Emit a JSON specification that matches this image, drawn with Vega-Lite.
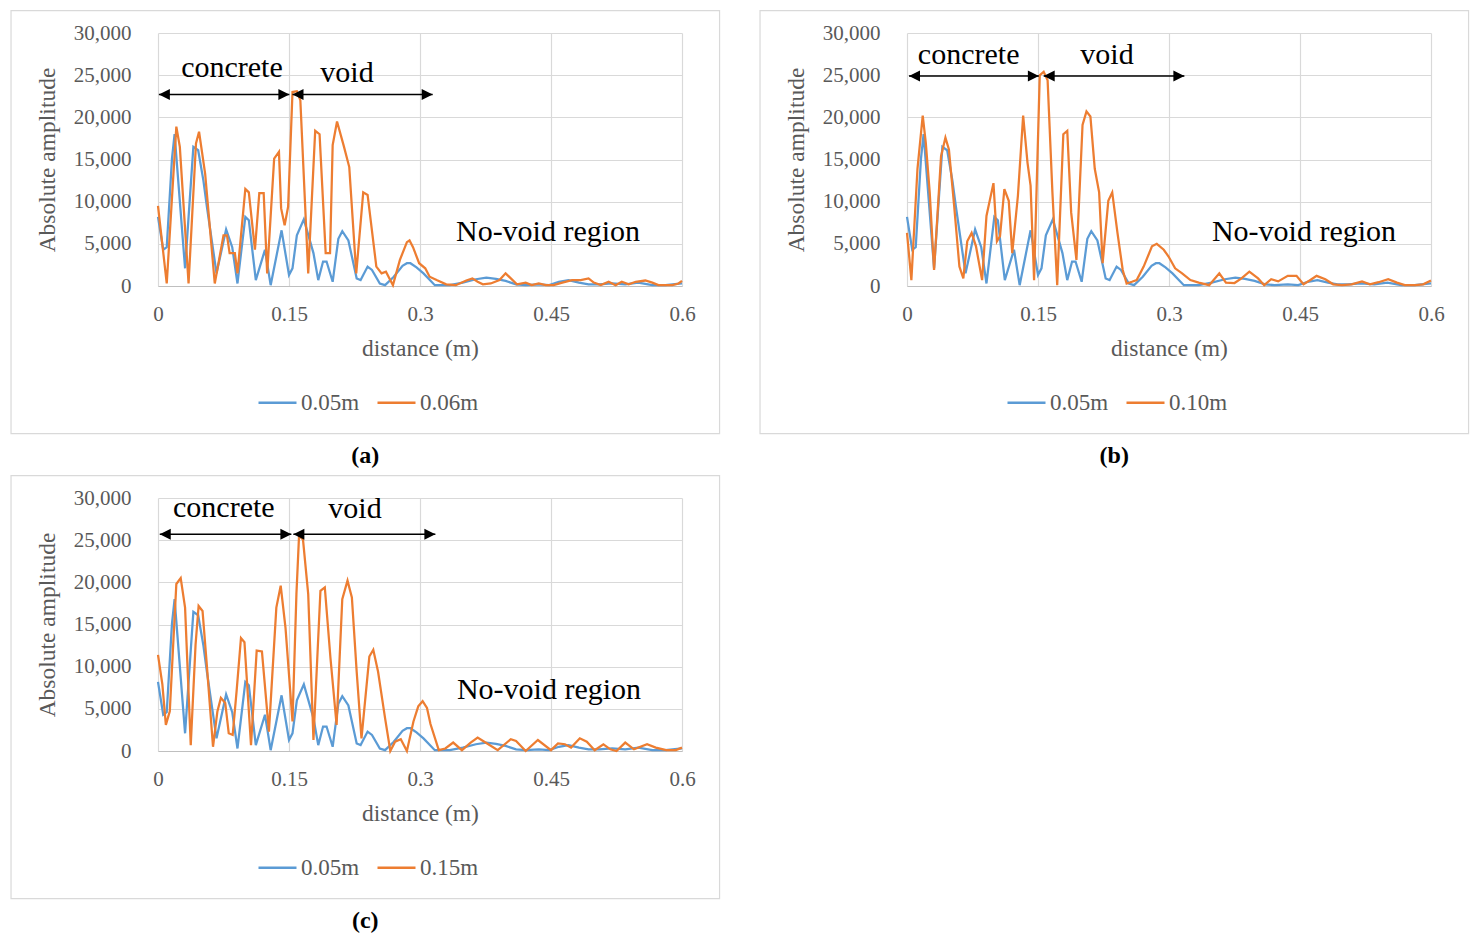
{
  "$schema": "https://vega.github.io/schema/vega-lite/v6.json",
  "background": "white",
  "padding": {"left": 10, "top": 10, "right": 0, "bottom": 0},
  "columns": 2,
  "spacing": {"row": 6, "column": 38},
  "resolve": {"scale": {"color": "independent"}},
  "datasets": {
    "blue": [
      {"d":0,"amp":8200},{"d":0.006,"amp":4300},{"d":0.01,"amp":4600},{"d":0.016,"amp":15100},{"d":0.019,"amp":18000},
      {"d":0.031,"amp":2100},{"d":0.0405,"amp":16500},{"d":0.046,"amp":16100},{"d":0.052,"amp":12500},{"d":0.056,"amp":9400},
      {"d":0.067,"amp":1500},{"d":0.078,"amp":6700},{"d":0.085,"amp":4600},{"d":0.091,"amp":300},{"d":0.1,"amp":8200},
      {"d":0.104,"amp":7800},{"d":0.112,"amp":700},{"d":0.1225,"amp":4300},{"d":0.129,"amp":100},{"d":0.1415,"amp":6600},
      {"d":0.15,"amp":1300},{"d":0.154,"amp":2100},{"d":0.159,"amp":6000},{"d":0.167,"amp":7900},{"d":0.178,"amp":3900},
      {"d":0.1835,"amp":700},{"d":0.189,"amp":2900},{"d":0.193,"amp":2900},{"d":0.2,"amp":500},{"d":0.2065,"amp":5600},
      {"d":0.211,"amp":6500},{"d":0.218,"amp":5400},{"d":0.2275,"amp":900},{"d":0.232,"amp":700},{"d":0.24,"amp":2300},
      {"d":0.245,"amp":1900},{"d":0.254,"amp":300},{"d":0.26,"amp":100},{"d":0.27,"amp":1100},{"d":0.28,"amp":2400},
      {"d":0.285,"amp":2700},{"d":0.289,"amp":2700},{"d":0.296,"amp":2200},{"d":0.304,"amp":1500},{"d":0.317,"amp":100},
      {"d":0.334,"amp":100},{"d":0.349,"amp":400},{"d":0.364,"amp":800},{"d":0.376,"amp":1000},{"d":0.387,"amp":850},
      {"d":0.398,"amp":600},{"d":0.41,"amp":200},{"d":0.421,"amp":100},{"d":0.436,"amp":200},{"d":0.448,"amp":100},
      {"d":0.459,"amp":500},{"d":0.47,"amp":700},{"d":0.482,"amp":400},{"d":0.493,"amp":200},{"d":0.505,"amp":200},
      {"d":0.52,"amp":300},{"d":0.535,"amp":200},{"d":0.55,"amp":400},{"d":0.566,"amp":100},{"d":0.581,"amp":100},
      {"d":0.6,"amp":300}
    ],
    "orangeA": [
      {"d":0,"amp":9500},{"d":0.01,"amp":300},{"d":0.021,"amp":18900},{"d":0.025,"amp":16500},{"d":0.035,"amp":300},
      {"d":0.0435,"amp":16900},{"d":0.047,"amp":18300},{"d":0.054,"amp":13300},{"d":0.065,"amp":300},{"d":0.075,"amp":6000},
      {"d":0.079,"amp":6000},{"d":0.082,"amp":3900},{"d":0.088,"amp":3900},{"d":0.091,"amp":1500},{"d":0.1,"amp":11500},
      {"d":0.104,"amp":11100},{"d":0.111,"amp":4300},{"d":0.116,"amp":11000},{"d":0.121,"amp":11000},{"d":0.125,"amp":1500},
      {"d":0.133,"amp":15100},{"d":0.1385,"amp":15900},{"d":0.141,"amp":9200},{"d":0.145,"amp":7200},{"d":0.149,"amp":9400},
      {"d":0.154,"amp":23000},{"d":0.159,"amp":23100},{"d":0.163,"amp":22000},{"d":0.172,"amp":1500},{"d":0.18,"amp":18400},
      {"d":0.185,"amp":18000},{"d":0.192,"amp":3900},{"d":0.197,"amp":3900},{"d":0.2,"amp":16700},{"d":0.205,"amp":19500},
      {"d":0.213,"amp":16500},{"d":0.219,"amp":14100},{"d":0.227,"amp":1500},{"d":0.235,"amp":11100},{"d":0.24,"amp":10800},
      {"d":0.25,"amp":2300},{"d":0.256,"amp":1500},{"d":0.261,"amp":1700},{"d":0.269,"amp":100},{"d":0.277,"amp":3100},
      {"d":0.285,"amp":5200},{"d":0.288,"amp":5400},{"d":0.292,"amp":4600},{"d":0.299,"amp":2700},{"d":0.306,"amp":2100},
      {"d":0.311,"amp":1100},{"d":0.319,"amp":700},{"d":0.33,"amp":200},{"d":0.341,"amp":100},{"d":0.353,"amp":650},
      {"d":0.36,"amp":900},{"d":0.366,"amp":500},{"d":0.372,"amp":200},{"d":0.381,"amp":300},{"d":0.391,"amp":700},
      {"d":0.398,"amp":1500},{"d":0.404,"amp":900},{"d":0.411,"amp":200},{"d":0.421,"amp":400},{"d":0.428,"amp":100},
      {"d":0.436,"amp":300},{"d":0.444,"amp":100},{"d":0.453,"amp":100},{"d":0.463,"amp":400},{"d":0.474,"amp":700},
      {"d":0.484,"amp":700},{"d":0.493,"amp":900},{"d":0.499,"amp":400},{"d":0.507,"amp":100},{"d":0.516,"amp":500},
      {"d":0.524,"amp":100},{"d":0.531,"amp":500},{"d":0.539,"amp":200},{"d":0.547,"amp":500},{"d":0.558,"amp":650},
      {"d":0.566,"amp":400},{"d":0.573,"amp":100},{"d":0.581,"amp":100},{"d":0.589,"amp":100},{"d":0.596,"amp":300},
      {"d":0.6,"amp":600}
    ],
    "orangeB": [
      {"d":0,"amp":6300},{"d":0.005,"amp":700},{"d":0.012,"amp":13900},{"d":0.018,"amp":20200},{"d":0.0215,"amp":17000},
      {"d":0.026,"amp":11100},{"d":0.031,"amp":1900},{"d":0.039,"amp":15400},{"d":0.044,"amp":17600},{"d":0.048,"amp":16200},
      {"d":0.054,"amp":9500},{"d":0.06,"amp":2300},{"d":0.0645,"amp":900},{"d":0.069,"amp":5300},{"d":0.074,"amp":6300},
      {"d":0.079,"amp":4700},{"d":0.086,"amp":700},{"d":0.091,"amp":8300},{"d":0.099,"amp":12200},{"d":0.103,"amp":5300},
      {"d":0.1065,"amp":5900},{"d":0.1115,"amp":11500},{"d":0.1165,"amp":10100},{"d":0.1205,"amp":3900},{"d":0.127,"amp":10700},
      {"d":0.133,"amp":20200},{"d":0.138,"amp":14600},{"d":0.1415,"amp":11900},{"d":0.1455,"amp":700},{"d":0.152,"amp":25000},
      {"d":0.1565,"amp":25400},{"d":0.161,"amp":24400},{"d":0.1665,"amp":11100},{"d":0.172,"amp":100},{"d":0.179,"amp":18000},
      {"d":0.1835,"amp":18400},{"d":0.188,"amp":8700},{"d":0.194,"amp":3100},{"d":0.201,"amp":19100},{"d":0.2055,"amp":20700},
      {"d":0.21,"amp":20100},{"d":0.215,"amp":13900},{"d":0.22,"amp":11100},{"d":0.224,"amp":2700},{"d":0.2305,"amp":10100},
      {"d":0.235,"amp":11100},{"d":0.241,"amp":6300},{"d":0.247,"amp":1900},{"d":0.2515,"amp":300},{"d":0.2575,"amp":500},
      {"d":0.263,"amp":700},{"d":0.271,"amp":2300},{"d":0.2805,"amp":4700},{"d":0.286,"amp":5000},{"d":0.294,"amp":4300},
      {"d":0.2995,"amp":3500},{"d":0.307,"amp":2100},{"d":0.315,"amp":1500},{"d":0.3245,"amp":700},{"d":0.334,"amp":400},
      {"d":0.346,"amp":100},{"d":0.3576,"amp":1500},{"d":0.3652,"amp":400},{"d":0.375,"amp":350},{"d":0.383,"amp":900},
      {"d":0.392,"amp":1700},{"d":0.402,"amp":900},{"d":0.409,"amp":100},{"d":0.417,"amp":800},{"d":0.425,"amp":550},
      {"d":0.436,"amp":1200},{"d":0.446,"amp":1200},{"d":0.454,"amp":200},{"d":0.461,"amp":650},{"d":0.469,"amp":1200},
      {"d":0.479,"amp":800},{"d":0.488,"amp":200},{"d":0.498,"amp":100},{"d":0.509,"amp":200},{"d":0.521,"amp":550},
      {"d":0.53,"amp":200},{"d":0.54,"amp":450},{"d":0.551,"amp":800},{"d":0.561,"amp":400},{"d":0.57,"amp":100},
      {"d":0.582,"amp":100},{"d":0.591,"amp":200},{"d":0.6,"amp":650}
    ],
    "orangeC": [
      {"d":0,"amp":11400},{"d":0.005,"amp":7900},{"d":0.009,"amp":3100},{"d":0.0135,"amp":4700},{"d":0.017,"amp":11800},
      {"d":0.021,"amp":19800},{"d":0.026,"amp":20500},{"d":0.031,"amp":17000},{"d":0.0375,"amp":700},{"d":0.043,"amp":12600},
      {"d":0.0465,"amp":17200},{"d":0.051,"amp":16600},{"d":0.0556,"amp":10600},{"d":0.063,"amp":500},{"d":0.068,"amp":4700},
      {"d":0.072,"amp":6300},{"d":0.077,"amp":5700},{"d":0.081,"amp":2100},{"d":0.0855,"amp":1900},{"d":0.09,"amp":7100},
      {"d":0.095,"amp":13400},{"d":0.099,"amp":12900},{"d":0.1065,"amp":700},{"d":0.113,"amp":11900},{"d":0.119,"amp":11800},
      {"d":0.127,"amp":2300},{"d":0.1355,"amp":17000},{"d":0.1405,"amp":19600},{"d":0.146,"amp":14600},{"d":0.154,"amp":3500},
      {"d":0.1585,"amp":18600},{"d":0.1615,"amp":25500},{"d":0.166,"amp":25100},{"d":0.172,"amp":18600},{"d":0.178,"amp":1300},
      {"d":0.186,"amp":19000},{"d":0.191,"amp":19400},{"d":0.1975,"amp":11000},{"d":0.2045,"amp":3100},{"d":0.211,"amp":18000},
      {"d":0.217,"amp":20200},{"d":0.222,"amp":18200},{"d":0.2275,"amp":9400},{"d":0.233,"amp":1500},{"d":0.242,"amp":11200},
      {"d":0.2465,"amp":12000},{"d":0.252,"amp":9400},{"d":0.26,"amp":3900},{"d":0.266,"amp":0},{"d":0.2715,"amp":1100},
      {"d":0.278,"amp":1400},{"d":0.285,"amp":0},{"d":0.2925,"amp":3500},{"d":0.298,"amp":5300},{"d":0.303,"amp":5900},
      {"d":0.308,"amp":5100},{"d":0.312,"amp":3200},{"d":0.3215,"amp":100},{"d":0.329,"amp":300},{"d":0.338,"amp":1000},
      {"d":0.348,"amp":100},{"d":0.358,"amp":1000},{"d":0.366,"amp":1600},{"d":0.375,"amp":1000},{"d":0.389,"amp":100},
      {"d":0.404,"amp":1400},{"d":0.41,"amp":1200},{"d":0.421,"amp":0},{"d":0.435,"amp":1300},{"d":0.45,"amp":100},
      {"d":0.458,"amp":900},{"d":0.466,"amp":800},{"d":0.473,"amp":400},{"d":0.483,"amp":1500},{"d":0.491,"amp":1100},
      {"d":0.5,"amp":100},{"d":0.51,"amp":800},{"d":0.518,"amp":200},{"d":0.525,"amp":0},{"d":0.535,"amp":1000},
      {"d":0.545,"amp":200},{"d":0.56,"amp":800},{"d":0.57,"amp":400},{"d":0.582,"amp":100},{"d":0.593,"amp":100},
      {"d":0.6,"amp":400}
    ],
    "arrowsA": [{"d":0.001,"d2":0.1504,"amp":22700},{"d":0.154,"d2":0.3145,"amp":22700}],
    "arrowsB": [{"d":0.0023,"d2":0.151,"amp":24900},{"d":0.1565,"d2":0.3176,"amp":24900}],
    "arrowsC": [{"d":0.002,"d2":0.1527,"amp":25700},{"d":0.155,"d2":0.3176,"amp":25700}],
    "labelsA": [{"label":"concrete","d":0.0847,"amp":24750},{"label":"void","d":0.2164,"amp":24230},{"label":"No-void region","d":0.4466,"amp":5336}],
    "labelsB": [{"label":"concrete","d":0.0706,"amp":26380},{"label":"void","d":0.229,"amp":26380},{"label":"No-void region","d":0.4546,"amp":5355}],
    "labelsC": [{"label":"concrete","d":0.0754,"amp":27800},{"label":"void","d":0.2256,"amp":27570},{"label":"No-void region","d":0.4477,"amp":6190}]
  },
  "concat": [
    {
      "width": 524,
      "height": 253,
      "title": {"text": "(a)"},
      "layer": [
        {"data": {"name": "blue"}, "mark": {"type": "line", "strokeWidth": 2.25},
         "encoding": {
           "x": {"field": "d", "type": "quantitative", "scale": {"domain": [0, 0.6], "nice": false, "zero": false},
                 "axis": {"values": [0, 0.15, 0.3, 0.45, 0.6], "format": ".2~f", "title": "distance (m)", "grid": true}},
           "y": {"field": "amp", "type": "quantitative", "scale": {"domain": [0, 30000], "nice": false},
                 "axis": {"values": [0, 5000, 10000, 15000, 20000, 25000, 30000], "format": ",.0f", "title": "Absolute amplitude", "grid": true}},
           "color": {"datum": "0.05m", "type": "nominal", "scale": {"domain": ["0.05m", "0.06m"], "range": ["#5B9BD5", "#ED7D31"]}, "legend": {"title": null}}}},
        {"data": {"name": "orangeA"}, "mark": {"type": "line", "strokeWidth": 2.25},
         "encoding": {
           "x": {"field": "d", "type": "quantitative", "scale": {"domain": [0, 0.6], "nice": false, "zero": false},
                 "axis": {"values": [0, 0.15, 0.3, 0.45, 0.6], "format": ".2~f", "title": "distance (m)", "grid": true}},
           "y": {"field": "amp", "type": "quantitative", "scale": {"domain": [0, 30000], "nice": false},
                 "axis": {"values": [0, 5000, 10000, 15000, 20000, 25000, 30000], "format": ",.0f", "title": "Absolute amplitude", "grid": true}},
           "color": {"datum": "0.06m", "type": "nominal"}}},
        {"data": {"values": [{"frame": 1}]}, "mark": {"type": "rect", "fill": "transparent", "stroke": "#D9D9D9", "strokeWidth": 1.2},
         "encoding": {
           "x": {"datum": -0.1683, "type": "quantitative", "scale": {"domain": [0, 0.6], "nice": false, "zero": false},
                 "axis": {"values": [0, 0.15, 0.3, 0.45, 0.6], "format": ".2~f", "title": "distance (m)", "grid": true}},
           "x2": {"datum": 0.643},
           "y": {"datum": 32650, "type": "quantitative", "scale": {"domain": [0, 30000], "nice": false},
                 "axis": {"values": [0, 5000, 10000, 15000, 20000, 25000, 30000], "format": ",.0f", "title": "Absolute amplitude", "grid": true}},
           "y2": {"datum": -17500}}},
        {"data": {"name": "arrowsA"}, "mark": {"type": "rule", "color": "black", "strokeWidth": 1.5},
         "encoding": {
           "x": {"field": "d", "type": "quantitative", "scale": {"domain": [0, 0.6], "nice": false, "zero": false},
                 "axis": {"values": [0, 0.15, 0.3, 0.45, 0.6], "format": ".2~f", "title": "distance (m)", "grid": true}},
           "x2": {"field": "d2"},
           "y": {"field": "amp", "type": "quantitative", "scale": {"domain": [0, 30000], "nice": false},
                 "axis": {"values": [0, 5000, 10000, 15000, 20000, 25000, 30000], "format": ",.0f", "title": "Absolute amplitude", "grid": true}}}},
        {"data": {"name": "arrowsA"}, "mark": {"type": "point", "shape": "M0,0L2.2,-1.1L2.2,1.1Z", "filled": true, "color": "black", "opacity": 1, "size": 100},
         "encoding": {
           "x": {"field": "d", "type": "quantitative", "scale": {"domain": [0, 0.6], "nice": false, "zero": false},
                 "axis": {"values": [0, 0.15, 0.3, 0.45, 0.6], "format": ".2~f", "title": "distance (m)", "grid": true}},
           "y": {"field": "amp", "type": "quantitative", "scale": {"domain": [0, 30000], "nice": false},
                 "axis": {"values": [0, 5000, 10000, 15000, 20000, 25000, 30000], "format": ",.0f", "title": "Absolute amplitude", "grid": true}}}},
        {"data": {"name": "arrowsA"}, "mark": {"type": "point", "shape": "M0,0L-2.2,-1.1L-2.2,1.1Z", "filled": true, "color": "black", "opacity": 1, "size": 100},
         "encoding": {
           "x": {"field": "d2", "type": "quantitative", "scale": {"domain": [0, 0.6], "nice": false, "zero": false},
                 "axis": {"values": [0, 0.15, 0.3, 0.45, 0.6], "format": ".2~f", "title": "distance (m)", "grid": true}},
           "y": {"field": "amp", "type": "quantitative", "scale": {"domain": [0, 30000], "nice": false},
                 "axis": {"values": [0, 5000, 10000, 15000, 20000, 25000, 30000], "format": ",.0f", "title": "Absolute amplitude", "grid": true}}}},
        {"data": {"name": "labelsA"}, "mark": {"type": "text", "font": "Liberation Serif", "fontSize": 30, "baseline": "alphabetic", "color": "black"},
         "encoding": {
           "x": {"field": "d", "type": "quantitative", "scale": {"domain": [0, 0.6], "nice": false, "zero": false},
                 "axis": {"values": [0, 0.15, 0.3, 0.45, 0.6], "format": ".2~f", "title": "distance (m)", "grid": true}},
           "y": {"field": "amp", "type": "quantitative", "scale": {"domain": [0, 30000], "nice": false},
                 "axis": {"values": [0, 5000, 10000, 15000, 20000, 25000, 30000], "format": ",.0f", "title": "Absolute amplitude", "grid": true}},
           "text": {"field": "label"}}}
      ]
    },
    {
      "width": 524,
      "height": 253,
      "title": {"text": "(b)"},
      "layer": [
        {"data": {"name": "blue"}, "mark": {"type": "line", "strokeWidth": 2.25},
         "encoding": {
           "x": {"field": "d", "type": "quantitative", "scale": {"domain": [0, 0.6], "nice": false, "zero": false},
                 "axis": {"values": [0, 0.15, 0.3, 0.45, 0.6], "format": ".2~f", "title": "distance (m)", "grid": true}},
           "y": {"field": "amp", "type": "quantitative", "scale": {"domain": [0, 30000], "nice": false},
                 "axis": {"values": [0, 5000, 10000, 15000, 20000, 25000, 30000], "format": ",.0f", "title": "Absolute amplitude", "grid": true}},
           "color": {"datum": "0.05m", "type": "nominal", "scale": {"domain": ["0.05m", "0.10m"], "range": ["#5B9BD5", "#ED7D31"]}, "legend": {"title": null}}}},
        {"data": {"name": "orangeB"}, "mark": {"type": "line", "strokeWidth": 2.25},
         "encoding": {
           "x": {"field": "d", "type": "quantitative", "scale": {"domain": [0, 0.6], "nice": false, "zero": false},
                 "axis": {"values": [0, 0.15, 0.3, 0.45, 0.6], "format": ".2~f", "title": "distance (m)", "grid": true}},
           "y": {"field": "amp", "type": "quantitative", "scale": {"domain": [0, 30000], "nice": false},
                 "axis": {"values": [0, 5000, 10000, 15000, 20000, 25000, 30000], "format": ",.0f", "title": "Absolute amplitude", "grid": true}},
           "color": {"datum": "0.10m", "type": "nominal"}}},
        {"data": {"values": [{"frame": 1}]}, "mark": {"type": "rect", "fill": "transparent", "stroke": "#D9D9D9", "strokeWidth": 1.2},
         "encoding": {
           "x": {"datum": -0.1683, "type": "quantitative", "scale": {"domain": [0, 0.6], "nice": false, "zero": false},
                 "axis": {"values": [0, 0.15, 0.3, 0.45, 0.6], "format": ".2~f", "title": "distance (m)", "grid": true}},
           "x2": {"datum": 0.643},
           "y": {"datum": 32650, "type": "quantitative", "scale": {"domain": [0, 30000], "nice": false},
                 "axis": {"values": [0, 5000, 10000, 15000, 20000, 25000, 30000], "format": ",.0f", "title": "Absolute amplitude", "grid": true}},
           "y2": {"datum": -17500}}},
        {"data": {"name": "arrowsB"}, "mark": {"type": "rule", "color": "black", "strokeWidth": 1.5},
         "encoding": {
           "x": {"field": "d", "type": "quantitative", "scale": {"domain": [0, 0.6], "nice": false, "zero": false},
                 "axis": {"values": [0, 0.15, 0.3, 0.45, 0.6], "format": ".2~f", "title": "distance (m)", "grid": true}},
           "x2": {"field": "d2"},
           "y": {"field": "amp", "type": "quantitative", "scale": {"domain": [0, 30000], "nice": false},
                 "axis": {"values": [0, 5000, 10000, 15000, 20000, 25000, 30000], "format": ",.0f", "title": "Absolute amplitude", "grid": true}}}},
        {"data": {"name": "arrowsB"}, "mark": {"type": "point", "shape": "M0,0L2.2,-1.1L2.2,1.1Z", "filled": true, "color": "black", "opacity": 1, "size": 100},
         "encoding": {
           "x": {"field": "d", "type": "quantitative", "scale": {"domain": [0, 0.6], "nice": false, "zero": false},
                 "axis": {"values": [0, 0.15, 0.3, 0.45, 0.6], "format": ".2~f", "title": "distance (m)", "grid": true}},
           "y": {"field": "amp", "type": "quantitative", "scale": {"domain": [0, 30000], "nice": false},
                 "axis": {"values": [0, 5000, 10000, 15000, 20000, 25000, 30000], "format": ",.0f", "title": "Absolute amplitude", "grid": true}}}},
        {"data": {"name": "arrowsB"}, "mark": {"type": "point", "shape": "M0,0L-2.2,-1.1L-2.2,1.1Z", "filled": true, "color": "black", "opacity": 1, "size": 100},
         "encoding": {
           "x": {"field": "d2", "type": "quantitative", "scale": {"domain": [0, 0.6], "nice": false, "zero": false},
                 "axis": {"values": [0, 0.15, 0.3, 0.45, 0.6], "format": ".2~f", "title": "distance (m)", "grid": true}},
           "y": {"field": "amp", "type": "quantitative", "scale": {"domain": [0, 30000], "nice": false},
                 "axis": {"values": [0, 5000, 10000, 15000, 20000, 25000, 30000], "format": ",.0f", "title": "Absolute amplitude", "grid": true}}}},
        {"data": {"name": "labelsB"}, "mark": {"type": "text", "font": "Liberation Serif", "fontSize": 30, "baseline": "alphabetic", "color": "black"},
         "encoding": {
           "x": {"field": "d", "type": "quantitative", "scale": {"domain": [0, 0.6], "nice": false, "zero": false},
                 "axis": {"values": [0, 0.15, 0.3, 0.45, 0.6], "format": ".2~f", "title": "distance (m)", "grid": true}},
           "y": {"field": "amp", "type": "quantitative", "scale": {"domain": [0, 30000], "nice": false},
                 "axis": {"values": [0, 5000, 10000, 15000, 20000, 25000, 30000], "format": ",.0f", "title": "Absolute amplitude", "grid": true}},
           "text": {"field": "label"}}}
      ]
    },
    {
      "width": 524,
      "height": 253,
      "title": {"text": "(c)"},
      "layer": [
        {"data": {"name": "blue"}, "mark": {"type": "line", "strokeWidth": 2.25},
         "encoding": {
           "x": {"field": "d", "type": "quantitative", "scale": {"domain": [0, 0.6], "nice": false, "zero": false},
                 "axis": {"values": [0, 0.15, 0.3, 0.45, 0.6], "format": ".2~f", "title": "distance (m)", "grid": true}},
           "y": {"field": "amp", "type": "quantitative", "scale": {"domain": [0, 30000], "nice": false},
                 "axis": {"values": [0, 5000, 10000, 15000, 20000, 25000, 30000], "format": ",.0f", "title": "Absolute amplitude", "grid": true}},
           "color": {"datum": "0.05m", "type": "nominal", "scale": {"domain": ["0.05m", "0.15m"], "range": ["#5B9BD5", "#ED7D31"]}, "legend": {"title": null}}}},
        {"data": {"name": "orangeC"}, "mark": {"type": "line", "strokeWidth": 2.25},
         "encoding": {
           "x": {"field": "d", "type": "quantitative", "scale": {"domain": [0, 0.6], "nice": false, "zero": false},
                 "axis": {"values": [0, 0.15, 0.3, 0.45, 0.6], "format": ".2~f", "title": "distance (m)", "grid": true}},
           "y": {"field": "amp", "type": "quantitative", "scale": {"domain": [0, 30000], "nice": false},
                 "axis": {"values": [0, 5000, 10000, 15000, 20000, 25000, 30000], "format": ",.0f", "title": "Absolute amplitude", "grid": true}},
           "color": {"datum": "0.15m", "type": "nominal"}}},
        {"data": {"values": [{"frame": 1}]}, "mark": {"type": "rect", "fill": "transparent", "stroke": "#D9D9D9", "strokeWidth": 1.2},
         "encoding": {
           "x": {"datum": -0.1683, "type": "quantitative", "scale": {"domain": [0, 0.6], "nice": false, "zero": false},
                 "axis": {"values": [0, 0.15, 0.3, 0.45, 0.6], "format": ".2~f", "title": "distance (m)", "grid": true}},
           "x2": {"datum": 0.643},
           "y": {"datum": 32650, "type": "quantitative", "scale": {"domain": [0, 30000], "nice": false},
                 "axis": {"values": [0, 5000, 10000, 15000, 20000, 25000, 30000], "format": ",.0f", "title": "Absolute amplitude", "grid": true}},
           "y2": {"datum": -17500}}},
        {"data": {"name": "arrowsC"}, "mark": {"type": "rule", "color": "black", "strokeWidth": 1.5},
         "encoding": {
           "x": {"field": "d", "type": "quantitative", "scale": {"domain": [0, 0.6], "nice": false, "zero": false},
                 "axis": {"values": [0, 0.15, 0.3, 0.45, 0.6], "format": ".2~f", "title": "distance (m)", "grid": true}},
           "x2": {"field": "d2"},
           "y": {"field": "amp", "type": "quantitative", "scale": {"domain": [0, 30000], "nice": false},
                 "axis": {"values": [0, 5000, 10000, 15000, 20000, 25000, 30000], "format": ",.0f", "title": "Absolute amplitude", "grid": true}}}},
        {"data": {"name": "arrowsC"}, "mark": {"type": "point", "shape": "M0,0L2.2,-1.1L2.2,1.1Z", "filled": true, "color": "black", "opacity": 1, "size": 100},
         "encoding": {
           "x": {"field": "d", "type": "quantitative", "scale": {"domain": [0, 0.6], "nice": false, "zero": false},
                 "axis": {"values": [0, 0.15, 0.3, 0.45, 0.6], "format": ".2~f", "title": "distance (m)", "grid": true}},
           "y": {"field": "amp", "type": "quantitative", "scale": {"domain": [0, 30000], "nice": false},
                 "axis": {"values": [0, 5000, 10000, 15000, 20000, 25000, 30000], "format": ",.0f", "title": "Absolute amplitude", "grid": true}}}},
        {"data": {"name": "arrowsC"}, "mark": {"type": "point", "shape": "M0,0L-2.2,-1.1L-2.2,1.1Z", "filled": true, "color": "black", "opacity": 1, "size": 100},
         "encoding": {
           "x": {"field": "d2", "type": "quantitative", "scale": {"domain": [0, 0.6], "nice": false, "zero": false},
                 "axis": {"values": [0, 0.15, 0.3, 0.45, 0.6], "format": ".2~f", "title": "distance (m)", "grid": true}},
           "y": {"field": "amp", "type": "quantitative", "scale": {"domain": [0, 30000], "nice": false},
                 "axis": {"values": [0, 5000, 10000, 15000, 20000, 25000, 30000], "format": ",.0f", "title": "Absolute amplitude", "grid": true}}}},
        {"data": {"name": "labelsC"}, "mark": {"type": "text", "font": "Liberation Serif", "fontSize": 30, "baseline": "alphabetic", "color": "black"},
         "encoding": {
           "x": {"field": "d", "type": "quantitative", "scale": {"domain": [0, 0.6], "nice": false, "zero": false},
                 "axis": {"values": [0, 0.15, 0.3, 0.45, 0.6], "format": ".2~f", "title": "distance (m)", "grid": true}},
           "y": {"field": "amp", "type": "quantitative", "scale": {"domain": [0, 30000], "nice": false},
                 "axis": {"values": [0, 5000, 10000, 15000, 20000, 25000, 30000], "format": ",.0f", "title": "Absolute amplitude", "grid": true}},
           "text": {"field": "label"}}}
      ]
    }
  ],
  "config": {
    "font": "Liberation Serif",
    "view": {"stroke": null},
    "title": {"orient": "bottom", "anchor": "middle", "frame": "bounds", "offset": 10, "fontSize": 24, "fontWeight": "bold", "color": "black", "font": "Liberation Serif"},
    "axis": {
      "labelFont": "Liberation Serif", "titleFont": "Liberation Serif",
      "labelFontSize": 21, "titleFontSize": 23.5, "labelColor": "#595959", "titleColor": "#595959",
      "titleFontWeight": "normal", "grid": true, "gridColor": "#D9D9D9", "gridWidth": 1.2, "ticks": false, "domain": false
    },
    "axisX": {"domain": true, "domainColor": "#BFBFBF", "domainWidth": 1.2, "labelPadding": 17, "titlePadding": 12, "labelFlush": false},
    "axisY": {"labelPadding": 27, "titlePadding": 14},
    "legend": {
      "orient": "none", "legendX": 99, "legendY": 349, "direction": "horizontal",
      "symbolType": "stroke", "symbolSize": 1444, "symbolStrokeWidth": 2.5,
      "labelFont": "Liberation Serif", "labelFontSize": 23, "labelColor": "#595959",
      "labelOffset": 3, "columnPadding": 12
    }
  }
}
